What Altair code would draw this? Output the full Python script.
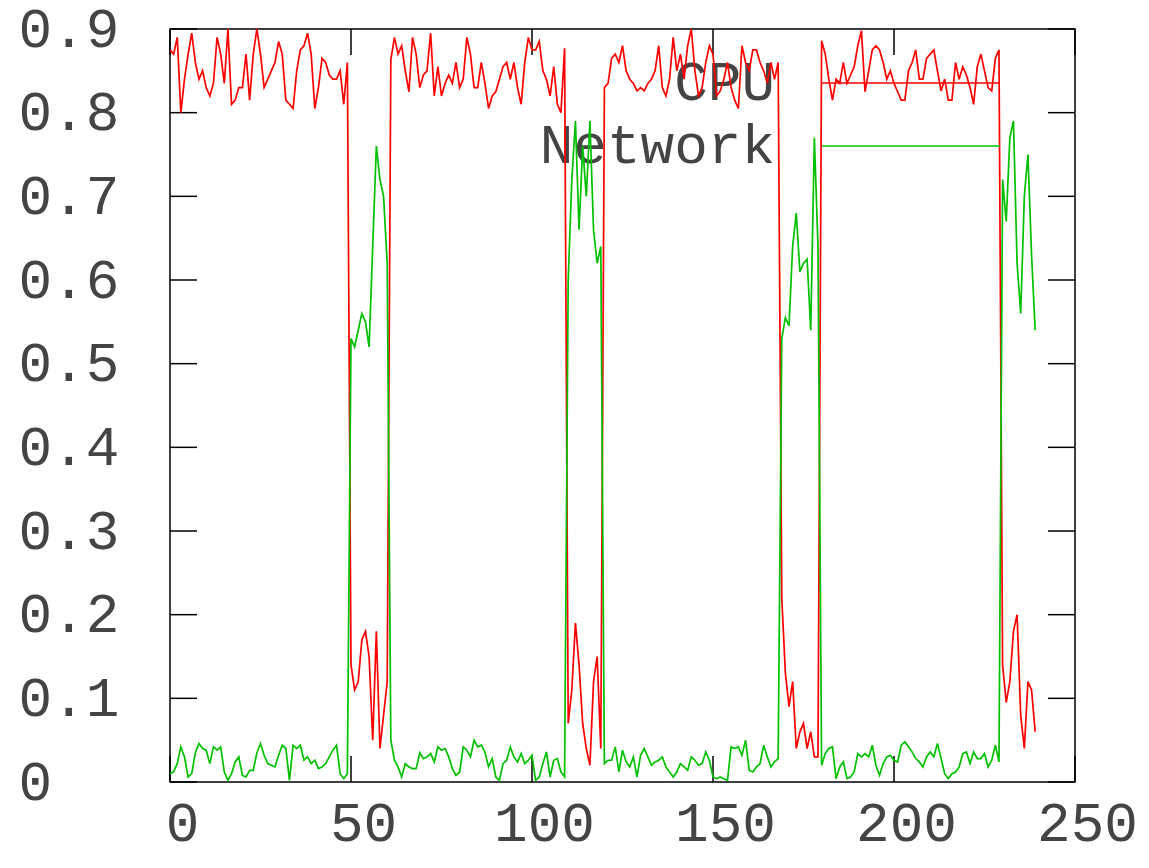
import altair as alt
import pandas as pd

# ---- data ----
series_names = ["CPU", "Network"]
series_colors = ["#ff0000", "#00c000"]

cpu_h1 = [0.875, 0.87, 0.89, 0.80, 0.84, 0.87, 0.895, 0.86, 0.84, 0.85,
          0.83, 0.82, 0.835, 0.89, 0.87, 0.835, 0.90, 0.81, 0.815, 0.83,
          0.83, 0.87, 0.815, 0.87, 0.90, 0.87, 0.83, 0.84, 0.85, 0.86,
          0.885, 0.87, 0.815, 0.81, 0.805, 0.85, 0.875, 0.88, 0.895, 0.87,
          0.805, 0.83, 0.865, 0.86, 0.845, 0.84, 0.84, 0.85, 0.81, 0.86]
cpu_l1 = [0.14, 0.11, 0.12, 0.17, 0.18, 0.15, 0.05, 0.18, 0.04, 0.08, 0.12]
cpu_h2 = [0.863, 0.89, 0.87, 0.88, 0.85, 0.825, 0.89, 0.87, 0.83, 0.845,
          0.85, 0.895, 0.82, 0.855, 0.82, 0.835, 0.845, 0.835, 0.86, 0.83,
          0.84, 0.89, 0.87, 0.83, 0.83, 0.86, 0.835, 0.805, 0.82, 0.825,
          0.84, 0.855, 0.86, 0.84, 0.86, 0.83, 0.81, 0.86, 0.89, 0.875,
          0.875, 0.885, 0.85, 0.84, 0.82, 0.855, 0.81, 0.80, 0.877]
cpu_l2 = [0.07, 0.11, 0.19, 0.14, 0.07, 0.04, 0.02, 0.12, 0.15, 0.04]
cpu_h3 = [0.83, 0.835, 0.865, 0.87, 0.86, 0.88, 0.85, 0.84, 0.835, 0.826,
          0.83, 0.826, 0.835, 0.84, 0.85, 0.88, 0.83, 0.82, 0.84, 0.89,
          0.85, 0.87, 0.84, 0.88, 0.90, 0.85, 0.82, 0.83, 0.86, 0.88,
          0.87, 0.82, 0.826, 0.84, 0.86, 0.83, 0.815, 0.805, 0.88, 0.86,
          0.85, 0.875, 0.875, 0.86, 0.85, 0.835, 0.86, 0.84, 0.86]
cpu_l3 = [0.22, 0.13, 0.09, 0.12, 0.04, 0.06, 0.07, 0.04, 0.06, 0.03, 0.03]
cpu_h4 = [0.886, 0.87, 0.84, 0.815, 0.84, 0.835, 0.86, 0.835, 0.845, 0.855,
          0.88, 0.898, 0.825, 0.85, 0.875, 0.88, 0.875, 0.86, 0.84, 0.85,
          0.835, 0.825, 0.815, 0.815, 0.85, 0.86, 0.875, 0.84, 0.84, 0.865,
          0.87, 0.875, 0.85, 0.826, 0.84, 0.815, 0.815, 0.86, 0.84, 0.855,
          0.845, 0.83, 0.81, 0.855, 0.87, 0.85, 0.83, 0.826, 0.865, 0.875]
cpu_l4 = [0.14, 0.095, 0.12, 0.18, 0.20, 0.08, 0.04, 0.12, 0.11, 0.06]

net_h1 = [0.010, 0.012, 0.022, 0.042, 0.030, 0.006, 0.010, 0.035, 0.046, 0.040,
          0.038, 0.022, 0.042, 0.038, 0.042, 0.012, 0.002, 0.010, 0.024, 0.030,
          0.008, 0.006, 0.014, 0.014, 0.035, 0.046, 0.032, 0.022, 0.020, 0.018,
          0.032, 0.044, 0.040, 0.002, 0.044, 0.040, 0.044, 0.026, 0.030, 0.022,
          0.026, 0.016, 0.018, 0.022, 0.030, 0.038, 0.044, 0.010, 0.004, 0.010]
net_l1 = [0.53, 0.52, 0.54, 0.56, 0.55, 0.52, 0.64, 0.76, 0.72, 0.70, 0.62]
net_h2 = [0.05, 0.026, 0.018, 0.006, 0.022, 0.018, 0.016, 0.016, 0.035, 0.028,
          0.03, 0.034, 0.024, 0.042, 0.038, 0.04, 0.03, 0.016, 0.008, 0.012,
          0.042, 0.038, 0.03, 0.05, 0.042, 0.044, 0.036, 0.018, 0.028, 0.006,
          0.002, 0.022, 0.026, 0.042, 0.03, 0.024, 0.034, 0.022, 0.026, 0.032,
          0.002, 0.006, 0.022, 0.036, 0.006, 0.026, 0.028, 0.012, 0.006]
net_l2 = [0.60, 0.72, 0.79, 0.66, 0.76, 0.70, 0.79, 0.66, 0.62, 0.64]
net_h3 = [0.022, 0.026, 0.026, 0.042, 0.012, 0.038, 0.024, 0.018, 0.03, 0.006,
          0.032, 0.04, 0.03, 0.02, 0.024, 0.026, 0.03, 0.018, 0.012, 0.006,
          0.012, 0.022, 0.018, 0.014, 0.03, 0.026, 0.02, 0.022, 0.036, 0.026,
          0.006, 0.004, 0.006, 0.004, 0.002, 0.042, 0.04, 0.042, 0.032, 0.05,
          0.014, 0.012, 0.018, 0.022, 0.044, 0.03, 0.018, 0.024, 0.028]
net_l3 = [0.53, 0.555, 0.545, 0.64, 0.68, 0.61, 0.62, 0.625, 0.54, 0.77, 0.64]
net_h4 = [0.02, 0.034, 0.04, 0.042, 0.004, 0.018, 0.024, 0.004, 0.006, 0.012,
          0.034, 0.03, 0.034, 0.03, 0.044, 0.02, 0.008, 0.022, 0.03, 0.032,
          0.026, 0.024, 0.044, 0.048, 0.042, 0.036, 0.028, 0.024, 0.018, 0.03,
          0.036, 0.03, 0.046, 0.028, 0.01, 0.004, 0.01, 0.012, 0.018, 0.034,
          0.036, 0.022, 0.036, 0.028, 0.028, 0.034, 0.018, 0.026, 0.044, 0.024]
net_l4 = [0.72, 0.67, 0.77, 0.79, 0.62, 0.56, 0.70, 0.75, 0.63, 0.54]

x_ticks = [0, 50, 100, 150, 200, 250]
y_ticks = [0, 0.1, 0.2, 0.3, 0.4, 0.5, 0.6, 0.7, 0.8, 0.9]

cpu = cpu_h1 + cpu_l1 + cpu_h2 + cpu_l2 + cpu_h3 + cpu_l3 + cpu_h4 + cpu_l4
net = net_h1 + net_l1 + net_h2 + net_l2 + net_h3 + net_l3 + net_h4 + net_l4
n = len(cpu)
t = list(range(n))

df = pd.DataFrame({
    "t": t + t,
    "value": cpu + net,
    "series": [series_names[0]] * n + [series_names[1]] * len(net),
})

# ---- layout ----
W, H = 905, 753
FONT = "Liberation Mono"
FS = 56
TXT = "#444444"
TICK = 26
LW = 1.7

xs = alt.Scale(domain=[0, 250], nice=False, zero=False)
ys = alt.Scale(domain=[0, 0.9], nice=False, zero=False)

x_axis = alt.Axis(
    values=x_ticks, ticks=False, domain=False, grid=False, title=None,
    labelFont=FONT, labelFontSize=FS, labelColor=TXT, labelPadding=14,
    labelOffset=12, labelFlush=False, labelOverlap=False, labelBound=False)
y_axis = alt.Axis(
    values=y_ticks, format=".1~f", ticks=False, domain=False, grid=False, title=None,
    labelFont=FONT, labelFontSize=FS, labelColor=TXT, labelPadding=152,
    labelAlign="left",
    labelFlush=False, labelOverlap=False, labelBound=False)

def key_entry(name, color, ypix):
    lab = alt.Chart(pd.DataFrame({"label": [name]})).mark_text(
        align="right", baseline="middle", font=FONT, fontSize=FS, color=TXT
    ).encode(text="label:N", x=alt.value(605), y=alt.value(ypix))
    sample = alt.Chart(pd.DataFrame({"label": [name]})).mark_rule(
        color=color, strokeWidth=LW
    ).encode(x=alt.value(652), x2=alt.value(830), y=alt.value(ypix))
    return lab, sample

k1t, k1s = key_entry(series_names[0], series_colors[0], 54)
k2t, k2s = key_entry(series_names[1], series_colors[1], 117)

lines = alt.Chart(df).mark_line(strokeWidth=LW, clip=True).encode(
    x=alt.X("t:Q", scale=xs, axis=x_axis),
    y=alt.Y("value:Q", scale=ys, axis=y_axis),
    color=alt.Color("series:N", scale=alt.Scale(domain=series_names, range=series_colors),
                    legend=None),
)

ytick_df = pd.DataFrame({"v": y_ticks})
xtick_df = pd.DataFrame({"v": x_ticks})

tick_l = alt.Chart(ytick_df).mark_rule(color="black", strokeWidth=1.5).encode(
    y=alt.Y("v:Q", scale=ys, axis=y_axis), x=alt.value(0), x2=alt.value(TICK + 1))
tick_r = alt.Chart(ytick_df).mark_rule(color="black", strokeWidth=1.5).encode(
    y=alt.Y("v:Q", scale=ys, axis=y_axis), x=alt.value(W - TICK - 1), x2=alt.value(W))
tick_b = alt.Chart(xtick_df).mark_rule(color="black", strokeWidth=1.5).encode(
    x=alt.X("v:Q", scale=xs, axis=x_axis), y=alt.value(H - TICK), y2=alt.value(H))
tick_t = alt.Chart(xtick_df).mark_rule(color="black", strokeWidth=1.5).encode(
    x=alt.X("v:Q", scale=xs, axis=x_axis), y=alt.value(0), y2=alt.value(TICK))

chart = alt.layer(k1t, k2t, tick_l, tick_r, tick_b, tick_t, k1s, lines, k2s).properties(
    width=W, height=H,
    autosize=alt.AutoSizeParams(type="none"),
    padding={"left": 170, "top": 29, "right": 74, "bottom": 86},
    background="white",
).configure_view(stroke="black", strokeWidth=1.5)

chart.save("out.html", embed_options={"renderer": "svg", "actions": False})
